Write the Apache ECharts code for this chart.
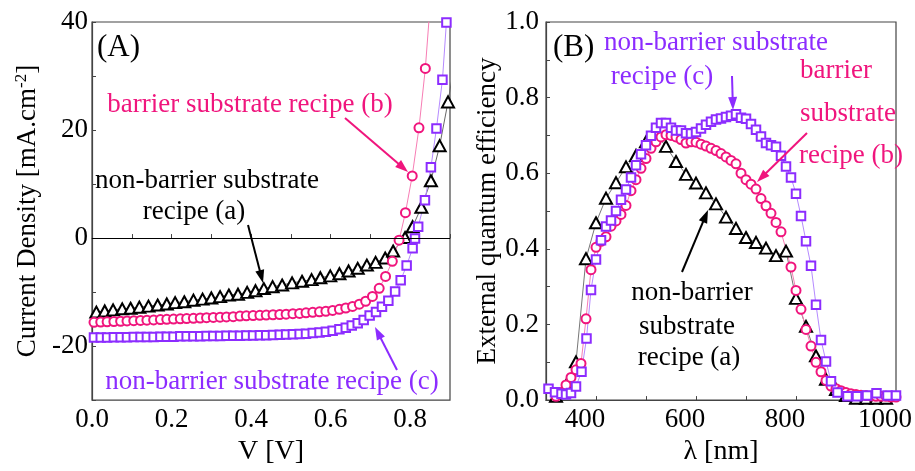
<!DOCTYPE html>
<html>
<head>
<meta charset="utf-8">
<script src="https://cdn.jsdelivr.net/npm/echarts@6/dist/echarts.min.js"></script>
<style>
html,body{margin:0;padding:0;background:#fff;}
#chart{width:915px;height:471px;}
</style>
</head>
<body>
<div id="chart"></div>
<script>
// ---------- Panel A: J-V curves ----------
const jvV_a = [0.011,0.032,0.053,0.076,0.097,0.119,0.142,0.165,0.188,0.209,0.232,0.255,0.278,0.300,0.322,0.344,0.367,0.390,0.411,0.432,0.454,0.478,0.503,0.528,0.552,0.574,0.599,0.622,0.645,0.668,0.691,0.713,0.737,0.757,0.787,0.806,0.828,0.852,0.874,0.895,0.915];
const jvJ_a = [-13.7,-13.5,-13.3,-13.1,-13.0,-12.8,-12.6,-12.4,-12.2,-11.95,-11.8,-11.5,-11.3,-11.1,-10.85,-10.55,-10.4,-10.05,-9.75,-9.35,-9.0,-8.7,-8.3,-8.0,-7.7,-7.35,-7.0,-6.6,-6.1,-5.6,-5.0,-4.5,-3.7,-2.4,0.1,2.1,5.7,10.6,17.1,25.2,34];

const jvV_b = [0.005,0.022,0.038,0.055,0.072,0.088,0.105,0.122,0.138,0.155,0.172,0.188,0.205,0.222,0.238,0.255,0.272,0.288,0.305,0.322,0.338,0.355,0.372,0.388,0.405,0.422,0.438,0.455,0.472,0.488,0.505,0.522,0.538,0.555,0.572,0.588,0.605,0.622,0.638,0.655,0.672,0.688,0.705,0.722,0.738,0.755,0.772,0.788,0.805,0.822,0.838,0.855];
const jvJ_b = [-15.6,-15.55,-15.5,-15.45,-15.4,-15.35,-15.3,-15.25,-15.2,-15.15,-15.1,-15.05,-15.0,-14.95,-14.9,-14.85,-14.8,-14.75,-14.7,-14.65,-14.6,-14.55,-14.45,-14.4,-14.35,-14.3,-14.25,-14.2,-14.15,-14.1,-14.0,-13.95,-13.85,-13.75,-13.65,-13.55,-13.4,-13.2,-12.95,-12.65,-12.25,-11.7,-10.8,-9.3,-7.1,-4.3,-0.4,4.7,11.5,20.4,31.4,48];

const jvV_c = [0.005,0.022,0.038,0.055,0.072,0.088,0.105,0.122,0.138,0.155,0.172,0.188,0.205,0.222,0.238,0.255,0.272,0.288,0.305,0.322,0.338,0.355,0.372,0.388,0.405,0.422,0.438,0.455,0.472,0.488,0.505,0.522,0.538,0.555,0.572,0.588,0.605,0.622,0.638,0.653,0.668,0.683,0.698,0.714,0.729,0.745,0.762,0.776,0.791,0.806,0.812,0.820,0.837,0.852,0.866,0.881,0.891,0.905];
const jvJ_c = [-18.4,-18.4,-18.4,-18.35,-18.35,-18.35,-18.3,-18.3,-18.3,-18.3,-18.25,-18.25,-18.25,-18.2,-18.2,-18.2,-18.2,-18.15,-18.15,-18.15,-18.1,-18.1,-18.1,-18.05,-18.05,-18.0,-18.0,-17.95,-17.9,-17.85,-17.8,-17.75,-17.7,-17.6,-17.5,-17.35,-17.15,-16.9,-16.6,-16.2,-15.75,-15.15,-14.35,-13.7,-12.7,-11.6,-9.9,-7.8,-5.1,-1.9,-0.1,2.1,7.0,13.1,20.3,29.3,39.9,56];

// ---------- Panel B: EQE ----------
const eqeL_a = [320,340,360,380,400,420,440,460,480,500,520,540,560,580,600,620,640,660,680,700,720,740,760,780,800,820,840,860,880,900,920,940,960,980];
const eqe_a  = [0.01,0.038,0.101,0.374,0.469,0.534,0.575,0.617,0.647,0.683,0.703,0.671,0.631,0.597,0.574,0.548,0.519,0.484,0.454,0.430,0.417,0.402,0.382,0.394,0.269,0.195,0.117,0.055,0.028,0.012,0.005,0.005,0.005,0.005];

const eqeL_b = [320,330,340,350,360,370,380,390,400,410,420,430,440,450,460,470,480,490,500,510,520,530,540,550,560,570,580,590,600,610,620,630,640,650,660,670,680,690,700,710,720,730,740,750,760,770,790,800,810,820,830,840,850,860,870,880,890,900,910,920,930,940,950,960,970,980,990,1000];
const eqe_b  = [0.01,0.02,0.04,0.06,0.08,0.097,0.215,0.345,0.404,0.42,0.432,0.46,0.474,0.491,0.515,0.554,0.583,0.613,0.639,0.666,0.683,0.696,0.702,0.70,0.696,0.689,0.68,0.683,0.682,0.677,0.672,0.666,0.66,0.652,0.643,0.634,0.625,0.60,0.583,0.571,0.558,0.533,0.514,0.494,0.47,0.445,0.352,0.29,0.24,0.187,0.143,0.10,0.075,0.052,0.037,0.03,0.025,0.02,0.017,0.015,0.013,0.012,0.011,0.01,0.01,0.01,0.008,0.008];

const eqeL_c = [305,318,331,340,350,360,371,381,390,400,410,420,430,440,450,460,470,480,490,500,510,520,530,540,550,560,570,580,590,600,610,620,630,640,650,660,670,680,690,700,710,720,730,740,750,760,770,780,790,800,810,820,830,840,850,860,870,883,903,922,942,961,983,1000];
const eqe_c  = [0.03,0.021,0.017,0.015,0.019,0.036,0.075,0.163,0.291,0.372,0.423,0.459,0.475,0.5,0.53,0.557,0.589,0.621,0.65,0.674,0.699,0.72,0.733,0.733,0.72,0.713,0.713,0.706,0.705,0.709,0.718,0.728,0.736,0.742,0.745,0.749,0.752,0.756,0.747,0.744,0.73,0.715,0.697,0.68,0.674,0.67,0.646,0.618,0.589,0.546,0.487,0.42,0.355,0.252,0.159,0.102,0.05,0.02,0.01,0.01,0.012,0.018,0.012,0.012];

const jvXTicks = [0.0,0.2,0.4,0.6,0.8];
const jvYTicks = [-20,0,20,40];
const eqeXTicks = [400,600,800,1000];
const eqeYTicks = [0.0,0.2,0.4,0.6,0.8,1.0];

const PINK = '#F0157D', PURPLE = '#8C2CFF', BLACK = '#000';
const FONT = 'Liberation Serif';

function pairs(xs, ys){ return xs.map((x,i)=>[x, ys[i]]); }

function ser(name, xi, yi, xs, ys, sym, size, col, lineCol){
  return {
    name, type:'line', xAxisIndex:xi, yAxisIndex:yi, data:pairs(xs,ys),
    symbol:sym, symbolSize:size, showAllSymbol:true, clip:true,
    lineStyle:{color:lineCol, width:1},
    itemStyle:{color:'#fff', borderColor:col, borderWidth:2},
    emphasis:{disabled:true}, animation:false
  };
}

const axisCommon = {
  axisLine:{show:true, lineStyle:{color:'#444', width:1.2}},
  axisTick:{show:true, inside:true, length:4, lineStyle:{color:'#444'}},
  splitLine:{show:false},
};

function arrow(x1,y1,x2,y2,color){
  const dx=x2-x1, dy=y2-y1, L=Math.sqrt(dx*dx+dy*dy), ux=dx/L, uy=dy/L;
  const hl=13, hw=4.5;
  const bx=x2-ux*hl, by=y2-uy*hl;
  return [
    {type:'line', shape:{x1:x1,y1:y1,x2:bx+ux*2,y2:by+uy*2}, style:{stroke:color, lineWidth:2}, z:100},
    {type:'polygon', shape:{points:[[x2,y2],[bx-uy*hw,by+ux*hw],[bx+uy*hw,by-ux*hw]]}, style:{fill:color}, z:100}
  ];
}
function txt(s,x,y,color,size,align){
  return {type:'text', x:x, y:y, z:100, style:{text:s, fill:color, font:(size||27)+'px "'+FONT+'"', textAlign:align||'center', textVerticalAlign:'middle'}};
}

const chart = echarts.init(document.getElementById('chart'), null, {renderer:'canvas'});
const option = {
  animation:false,
  backgroundColor:'#fff',
  grid:[
    {left:92, top:22, width:358, height:381, show:true, borderColor:'#444', borderWidth:1.2, backgroundColor:'transparent'},
    {left:546, top:22, width:358, height:383, show:true, borderColor:'#444', borderWidth:1.2, backgroundColor:'transparent'}
  ],
  xAxis:[
    Object.assign({}, axisCommon, {type:'value', gridIndex:0, min:0, max:0.9, interval:0.1,
      name:'V [V]', nameLocation:'middle', nameGap:34,
      nameTextStyle:{fontFamily:FONT, fontSize:28, color:'#000'},
      axisLabel:{fontFamily:FONT, fontSize:27, color:'#000', margin:6,
        formatter:v=>{const t=Math.round(v*10)/10; return jvXTicks.some(k=>Math.abs(k-t)<1e-9)?t.toFixed(1):'';}}}),
    Object.assign({}, axisCommon, {type:'value', gridIndex:1, min:300, max:1000, interval:100,
      name:'λ [nm]', nameLocation:'middle', nameGap:34,
      nameTextStyle:{fontFamily:FONT, fontSize:28, color:'#000'},
      axisLabel:{fontFamily:FONT, fontSize:27, color:'#000', margin:6, padding:[0,22,0,0],
        formatter:v=>eqeXTicks.indexOf(Math.round(v))>=0?String(Math.round(v)):''}})
  ],
  yAxis:[
    Object.assign({}, axisCommon, {type:'value', gridIndex:0, min:-30, max:40, interval:10,
      name:'{a|Current Density [mA.cm}{s|-2}{a|]}', nameLocation:'middle', nameGap:50, nameRotate:90,
      nameTextStyle:{rich:{a:{fontFamily:FONT, fontSize:27, color:'#000'}, s:{fontFamily:FONT, fontSize:17, color:'#000', verticalAlign:'top', padding:[0,0,12,0]}}},
      axisLabel:{fontFamily:FONT, fontSize:27, color:'#000', margin:4,
        formatter:v=>jvYTicks.indexOf(Math.round(v))>=0?String(Math.round(v)):''}}),
    Object.assign({}, axisCommon, {type:'value', gridIndex:1, min:0, max:1, interval:0.1,
      name:'External quantum efficiency', nameLocation:'middle', nameGap:35, nameRotate:90,
      nameTextStyle:{fontFamily:FONT, fontSize:27, color:'#000'},
      axisLabel:{fontFamily:FONT, fontSize:27, color:'#000', margin:7,
        formatter:v=>{const t=Math.round(v*10)/10; return eqeYTicks.some(k=>Math.abs(k-t)<1e-9)?t.toFixed(1):'';}}})
  ],
  series:[
    Object.assign(ser('a-JV',0,0,jvV_a,jvJ_a,'triangle',[12,11],BLACK,'#666'), {
      markLine:{silent:true, symbol:'none', animation:false, label:{show:false},
        lineStyle:{color:'#000', width:1, type:'solid'}, data:[{yAxis:0}]}}),
    ser('b-JV',0,0,jvV_b,jvJ_b,'circle',9,PINK,'#F77DB4'),
    ser('c-JV',0,0,jvV_c,jvJ_c,'rect',8.5,PURPLE,'#B58AFF'),
    ser('a-EQE',1,1,eqeL_a,eqe_a,'triangle',[12,11],BLACK,'#777'),
    ser('b-EQE',1,1,eqeL_b,eqe_b,'circle',9,PINK,'#F77DB4'),
    ser('c-EQE',1,1,eqeL_c,eqe_c,'rect',8.5,PURPLE,'#B58AFF')
  ],
  graphic:[].concat(
    [txt('(A)',97,48,'#000',31,'left'),
     txt('barrier substrate recipe (b)',250,105,PINK),
     txt('non-barrier substrate',207,181,'#000'),
     txt('recipe (a)',194,212,'#000'),
     txt('non-barrier substrate recipe (c)',272,382,PURPLE),
     txt('(B)',553,48,'#000',31,'left'),
     txt('non-barrier substrate',716,43,PURPLE),
     txt('recipe (c)',662,77,PURPLE),
     txt('barrier',836,71,PINK),
     txt('substrate',848,114,PINK),
     txt('recipe (b)',851,156,PINK),
     txt('non-barrier',692,293,'#000'),
     txt('substrate',687,327,'#000'),
     txt('recipe (a)',689,358,'#000')],
    arrow(345,118,408,172,PINK),
    arrow(248,225,263,283,'#000'),
    arrow(397,370,375,327,PURPLE),
    arrow(732,76,733,110,PURPLE),
    arrow(807,133,757,182,PINK),
    arrow(682,272,708,210,'#000')
  )
};
chart.setOption(option);
</script>
</body>
</html>
